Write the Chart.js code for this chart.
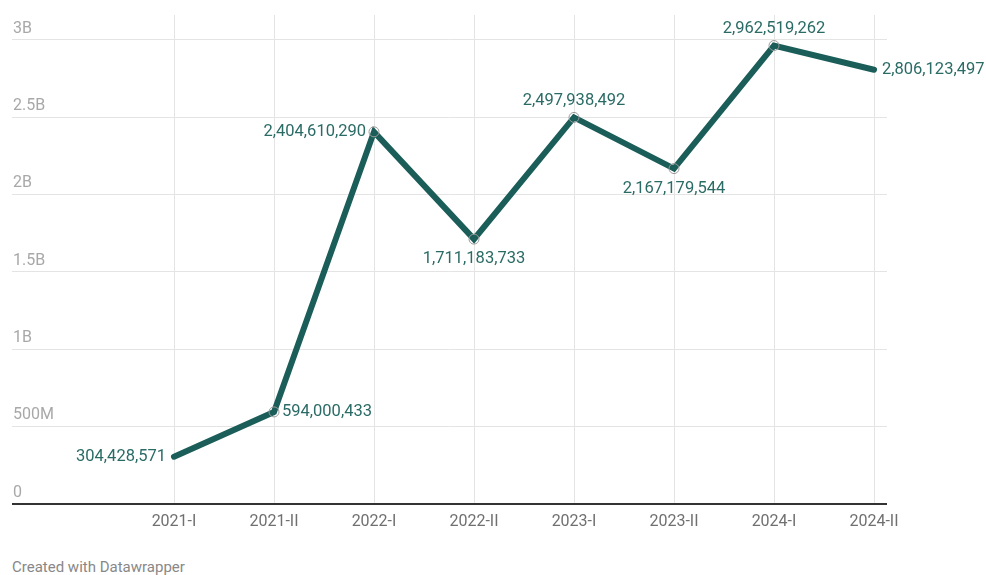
<!DOCTYPE html>
<html>
<head>
<meta charset="utf-8">
<script src="https://cdn.jsdelivr.net/npm/chart.js@4"></script>
<style>
  html, body { margin: 0; padding: 0; background: #fff; }
  #wrap { position: relative; width: 986px; height: 545px; }
  #foot { position: absolute; left: 12px; top: 558px; font: 15px Roboto, sans-serif; color: #888; }
</style>
</head>
<body>
<div id="wrap"><canvas id="myChart" width="986" height="545"></canvas></div>
<div id="foot">Created with Datawrapper</div>
<script>
// data
var periods = ['2021-I', '2021-II', '2022-I', '2022-II', '2023-I', '2023-II', '2024-I', '2024-II'];
var values = [304428571, 594000433, 2404610290, 1711183733, 2497938492, 2167179544, 2962519262, 2806123497];
var yTicks = [0, 500000000, 1000000000, 1500000000, 2000000000, 2500000000, 3000000000];
var yTickLabels = ['0', '500M', '1B', '1.5B', '2B', '2.5B', '3B'];
// where each value label sits relative to its point
var labelPos = ['left', 'right', 'left', 'below', 'above', 'below', 'above', 'right'];

var teal = '#1b5e59';
var labelColor = '#2a6b66';

var points = [];
for (var i = 0; i < values.length; i++) {
    points.push({x: i, y: values[i]});
}

// y tick labels above gridlines, on the left inside the plot
var yLabelsPlugin = {
    id: 'yLabels',
    afterDraw: function (chart) {
        var ctx = chart.ctx;
        var ys = chart.scales.y;
        ctx.save();
        ctx.font = '16px Roboto, sans-serif';
        ctx.fillStyle = '#a8a8a8';
        ctx.textAlign = 'left';
        ctx.textBaseline = 'bottom';
        for (var i = 0; i < yTicks.length; i++) {
            ctx.fillText(yTickLabels[i], chart.chartArea.left + 1, ys.getPixelForValue(yTicks[i]) - 3);
        }
        ctx.restore();
    }
};

// value labels next to the points
var valueLabelsPlugin = {
    id: 'valueLabels',
    afterDatasetsDraw: function (chart) {
        var ctx = chart.ctx;
        var meta = chart.getDatasetMeta(0);
        ctx.save();
        ctx.font = '16.5px Roboto, sans-serif';
        ctx.fillStyle = labelColor;
        meta.data.forEach(function (pt, i) {
            var txt = values[i].toLocaleString('en-US');
            var p = labelPos[i];
            if (p === 'left') {
                ctx.textAlign = 'right'; ctx.textBaseline = 'middle';
                ctx.fillText(txt, pt.x - 8, pt.y);
            } else if (p === 'right') {
                ctx.textAlign = 'left'; ctx.textBaseline = 'middle';
                ctx.fillText(txt, pt.x + 8, pt.y);
            } else if (p === 'above') {
                ctx.textAlign = 'center'; ctx.textBaseline = 'bottom';
                ctx.fillText(txt, pt.x, pt.y - 8);
            } else {
                ctx.textAlign = 'center'; ctx.textBaseline = 'top';
                ctx.fillText(txt, pt.x, pt.y + 12);
            }
        });
        ctx.restore();
    }
};

var ctx = document.getElementById('myChart');
var myChart = new Chart(ctx, {
    type: 'line',
    data: {
        datasets: [{
            data: points,
            borderColor: teal,
            borderWidth: 6,
            borderCapStyle: 'round',
            borderJoinStyle: 'miter',
            tension: 0,
            fill: false,
            pointRadius: [0, 5, 5, 5, 5, 5, 5, 0],
            pointBackgroundColor: 'rgba(255,255,255,0)',
            pointBorderColor: '#9a9a9a',
            pointBorderWidth: 1,
            pointHoverRadius: 0
        }]
    },
    options: {
        responsive: false,
        animation: false,
        maintainAspectRatio: false,
        layout: {padding: {left: 12, right: 99, top: 15, bottom: 4}},
        plugins: {legend: {display: false}, tooltip: {enabled: false}},
        scales: {
            x: {
                type: 'linear',
                min: -1.62,
                max: 7.13,
                afterBuildTicks: function (axis) {
                    axis.ticks = periods.map(function (p, i) { return {value: i}; });
                },
                ticks: {
                    autoSkip: false,
                    maxRotation: 0,
                    padding: 9,
                    color: '#707070',
                    font: {family: 'Roboto, sans-serif', size: 16},
                    callback: function (v) { return periods[v]; }
                },
                grid: {color: '#e4e4e4', lineWidth: 1, drawTicks: false},
                border: {display: false}
            },
            y: {
                min: 0,
                max: 3160000000,
                position: 'left',
                afterBuildTicks: function (axis) {
                    axis.ticks = yTicks.map(function (v) { return {value: v}; });
                },
                afterFit: function (axis) { axis.width = 0; },
                ticks: {display: false},
                grid: {
                    drawTicks: false,
                    color: function (c) { return c.tick && c.tick.value === 0 ? '#333333' : '#e4e4e4'; },
                    lineWidth: function (c) { return c.tick && c.tick.value === 0 ? 2 : 1; }
                },
                border: {display: false}
            }
        }
    },
    plugins: [yLabelsPlugin, valueLabelsPlugin]
});
</script>
</body>
</html>
